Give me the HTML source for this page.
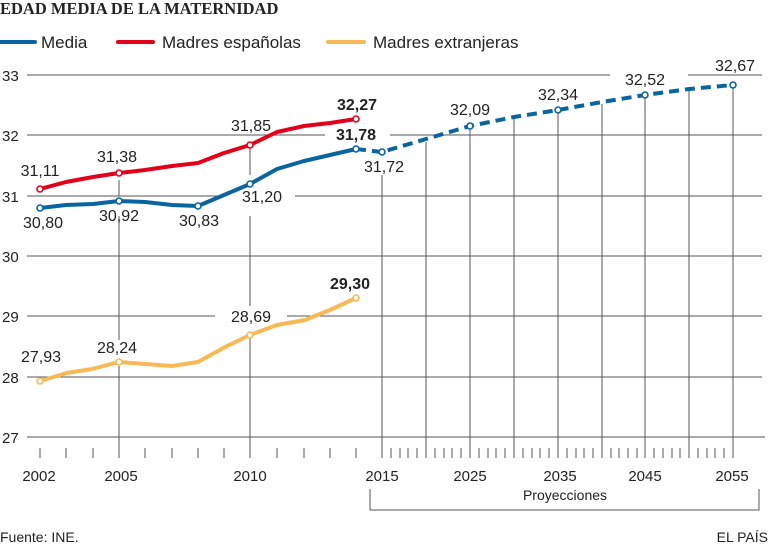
<!DOCTYPE html>
<html><head><meta charset="utf-8"><style>
body{margin:0;background:#fff;}
svg{display:block;font-family:"Liberation Sans",sans-serif;}
</style></head><body>
<svg width="768" height="549" viewBox="0 0 768 549" xmlns="http://www.w3.org/2000/svg">
<text x="0" y="14" font-family="Liberation Serif,serif" font-weight="bold" font-size="16.5" fill="#222">EDAD MEDIA DE LA MATERNIDAD</text>
<g font-size="17" fill="#222">
<line x1="0" y1="42" x2="35" y2="42" stroke="#0a64a0" stroke-width="4" stroke-linecap="round"/>
<text x="41" y="48">Media</text>
<line x1="118" y1="42" x2="153" y2="42" stroke="#e2001a" stroke-width="4" stroke-linecap="round"/>
<text x="162" y="48">Madres españolas</text>
<line x1="328" y1="42" x2="364" y2="42" stroke="#f8b855" stroke-width="4" stroke-linecap="round"/>
<text x="373" y="48">Madres extranjeras</text>
</g>
<g stroke="#555" stroke-width="1">
<line x1="27" y1="75" x2="610" y2="75"/><line x1="688" y1="75" x2="762" y2="75"/>
<line x1="27" y1="135" x2="325" y2="135"/><line x1="390" y1="135" x2="762" y2="135"/>
<line x1="27" y1="196" x2="225" y2="196"/><line x1="295" y1="196" x2="762" y2="196"/>
<line x1="27" y1="256" x2="762" y2="256"/>
<line x1="27" y1="316" x2="215" y2="316"/><line x1="287" y1="316" x2="762" y2="316"/>
<line x1="27" y1="377" x2="762" y2="377"/>
<line x1="27" y1="437" x2="765" y2="437"/>
<line x1="119" y1="180" x2="119" y2="196"/><line x1="119" y1="216" x2="119" y2="340"/><line x1="119" y1="366" x2="119" y2="437"/>
<line x1="250" y1="147" x2="250" y2="175"/><line x1="250" y1="216" x2="250" y2="306"/><line x1="250" y1="338" x2="250" y2="437"/>
<line x1="382" y1="175" x2="382" y2="437"/>
<line x1="426" y1="142" x2="426" y2="437"/>
<line x1="470" y1="128" x2="470" y2="437"/>
<line x1="514" y1="118" x2="514" y2="437"/>
<line x1="558" y1="111" x2="558" y2="437"/>
<line x1="602" y1="104" x2="602" y2="437"/>
<line x1="645" y1="96" x2="645" y2="437"/>
<line x1="689" y1="90" x2="689" y2="437"/>
<line x1="733" y1="85" x2="733" y2="437"/>
</g>
<g stroke="#555" stroke-width="1">
<path d="M40 448V458M66 448V458M93 448V458M145 448V458M172 448V458M198 448V458M224 448V458M277 448V458M304 448V458M330 448V458M356 448V458"/>
<path d="M119 437V458M250 437V458"/>
<path d="M382 437V458M391 448V458M400 448V458M408 448V458M417 448V458M426 437V458M435 448V458M444 448V458M452 448V458M461 448V458M470 437V458M479 448V458M488 448V458M496 448V458M505 448V458M514 437V458M523 448V458M532 448V458M540 448V458M549 448V458M558 437V458M567 448V458M576 448V458M584 448V458M593 448V458M602 437V458M611 448V458M619 448V458M628 448V458M637 448V458M645 437V458M654 448V458M663 448V458M672 448V458M680 448V458M689 437V458M698 448V458M707 448V458M715 448V458M724 448V458M733 437V458"/>
<path d="M370 489V510H759V489" fill="none"/>
</g>
<g font-size="15" fill="#222">
<text x="2" y="81">33</text><text x="2" y="141">32</text><text x="2" y="202">31</text><text x="2" y="262">30</text><text x="2" y="322">29</text><text x="2" y="383">28</text><text x="2" y="443">27</text>
</g>
<g font-size="15" fill="#222" text-anchor="middle">
<text x="39" y="481">2002</text><text x="121" y="481">2005</text><text x="250" y="481">2010</text><text x="382" y="481">2015</text><text x="470" y="481">2025</text><text x="560" y="481">2035</text><text x="645" y="481">2045</text><text x="732" y="481">2055</text>
<text x="565" y="500" font-size="14">Proyecciones</text>
</g>
<text x="0" y="542" font-size="14" fill="#222">Fuente: INE.</text>
<text x="768" y="542" font-size="14" fill="#222" text-anchor="end">EL PAÍS</text>
<g fill="none" stroke-width="4" stroke-linejoin="round" stroke-linecap="round">
<polyline stroke="#f8b855" points="40,381 67,373 92,369 119,362 145,364 172,366 198,362 227,346 250,335 277,325 305,320 330,310 356,298"/>
<polyline stroke="#e2001a" points="40,189 66,182 93,177 119,173 145,170 172,166 198,163 224,153 250,145 277,132 304,126 330,123 356,119"/>
<polyline stroke="#0a64a0" points="40,208 66,205 93,204 119,201 145,202 172,205 198,206 224,195 250,184 277,169 304,161 330,155 356,149"/>
<polyline stroke="#0a64a0" stroke-linecap="butt" stroke-dasharray="10,6" points="356,149 382,152 426,139 470,126 514,117 558,110 602,102 645,95 689,89 733,85"/>
</g>
<g fill="#fff" stroke-width="1.6">
<g stroke="#f8b855"><circle cx="40" cy="381" r="3"/><circle cx="119" cy="362" r="3"/><circle cx="250" cy="335" r="3"/><circle cx="356" cy="298" r="3"/></g>
<g stroke="#e2001a"><circle cx="40" cy="189" r="3"/><circle cx="119" cy="173" r="3"/><circle cx="250" cy="145" r="3"/><circle cx="356" cy="119" r="3"/></g>
<g stroke="#0a64a0"><circle cx="40" cy="208" r="3"/><circle cx="119" cy="201" r="3"/><circle cx="198" cy="206" r="3"/><circle cx="250" cy="184" r="3"/><circle cx="356" cy="149" r="3"/><circle cx="382" cy="152" r="3"/><circle cx="470" cy="126" r="3"/><circle cx="558" cy="110" r="3"/><circle cx="645" cy="95" r="3"/><circle cx="733" cy="85" r="3"/></g>
</g>
<g font-size="16" fill="#222" text-anchor="middle">
<text x="40" y="176">31,11</text><text x="117" y="162">31,38</text><text x="251" y="131">31,85</text>
<text x="43" y="228">30,80</text><text x="119" y="221">30,92</text><text x="199" y="226">30,83</text><text x="262" y="202">31,20</text>
<text x="384" y="172">31,72</text><text x="470" y="115">32,09</text><text x="558" y="100">32,34</text><text x="645" y="85">32,52</text><text x="735" y="71">32,67</text>
<text x="41" y="362">27,93</text><text x="117" y="353">28,24</text><text x="251" y="322">28,69</text>
<g font-weight="bold"><text x="357" y="110">32,27</text><text x="356" y="140">31,78</text><text x="350" y="289">29,30</text></g>
</g>
</svg>
</body></html>
